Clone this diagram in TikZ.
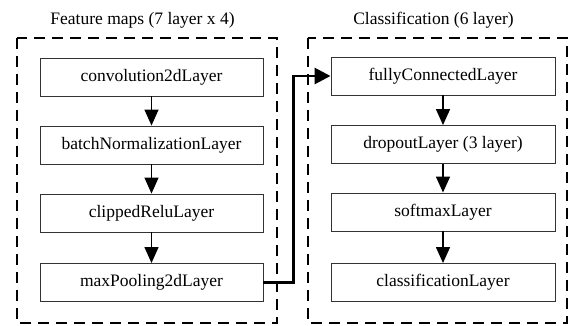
\documentclass[tikz,border=0pt]{standalone}
\usepackage{fontspec}
\setmainfont{Liberation Serif}
\usetikzlibrary{arrows.meta,positioning}
\begin{document}
\begin{tikzpicture}[x=1pt,y=-1pt,
  layerbox/.style={draw=black!80,line width=0.9pt,minimum width=223pt,minimum height=38pt,
    inner sep=0pt,font=\fontsize{17.5}{20}\selectfont,fill=white},
  groupbox/.style={draw,line width=1.6pt,dash pattern=on 11pt off 7pt},
  grouptitle/.style={font=\fontsize{17.5}{20}\selectfont,inner sep=0pt},
  flow/.style={line width=1.4pt,-{Triangle[length=16pt,width=14pt]}},
  conn/.style={line width=2.8pt,-{Triangle[length=16pt,width=16pt]}}]
\useasboundingbox (0,0) rectangle (574,325);
% group frames
\draw[groupbox] (17,38) rectangle (277,323);
\draw[groupbox] (308,38) rectangle (567,323);
\node[grouptitle] (t1) at (142.5,20) {Feature maps (7 layer x 4)};
\node[grouptitle] (t2) at (433.5,20) {Classification (6 layer)};
% feature extraction layers
\node[layerbox] (conv) at (151.5,77) {convolution2dLayer};
\node[layerbox] (bn) at (151.5,145) {batchNormalizationLayer};
\node[layerbox] (relu) at (151.5,213) {clippedReluLayer};
\node[layerbox] (pool) at (151.5,282.5) {maxPooling2dLayer};
% classification layers
\node[layerbox,minimum width=224pt] (fc) at (443,76) {fullyConnectedLayer};
\node[layerbox,minimum width=224pt] (drop) at (443,144.5) {dropoutLayer (3 layer)};
\node[layerbox,minimum width=224pt] (soft) at (443,212) {softmaxLayer};
\node[layerbox,minimum width=224pt] (cls) at (443,282.5) {classificationLayer};
% connectors
\draw[flow] (conv) -- (bn);
\draw[flow] (bn) -- (relu);
\draw[flow] (relu) -- (pool);
\draw[flow] (fc) -- (drop);
\draw[flow] (drop) -- (soft);
\draw[flow] (soft) -- (cls);
\draw[conn] (pool.east) -- ++(30,0) |- (fc.west);
\end{tikzpicture}
\end{document}
